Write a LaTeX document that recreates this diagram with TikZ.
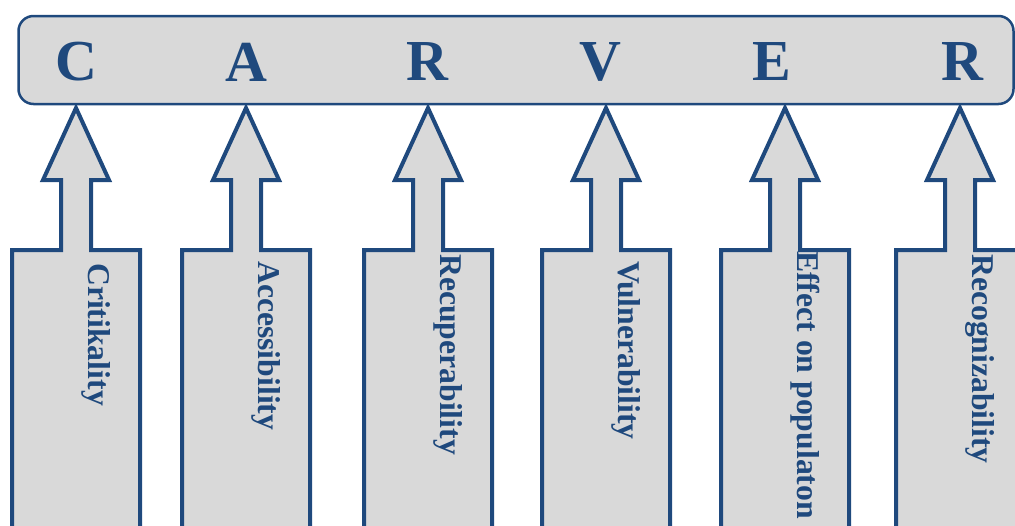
\documentclass[tikz,border=0pt]{standalone}
\usepackage{fontspec}
\setmainfont{Liberation Serif}
\usetikzlibrary{positioning,calc}
\definecolor{carverblue}{HTML}{1F497D}
\definecolor{carvergray}{HTML}{D9D9D9}

\begin{document}
\begin{tikzpicture}[x=1pt,y=-1pt,
    bar/.style={draw=carverblue,line width=2.5pt,fill=carvergray,rounded corners=15pt,inner sep=0pt},
    letter/.style={text=carverblue,font=\fontsize{58}{60}\selectfont\bfseries},
    factor/.style={text=carverblue,font=\fontsize{31.7}{33}\selectfont\bfseries,rotate=-90,anchor=west,inner sep=0pt},
    uparrow/.style={draw=carverblue,line width=4pt,fill=carvergray}]
      \useasboundingbox (0,0) rectangle (1015,525);
      \clip (0,0) rectangle (1015,525);

      % the CARVER bar
      \node[bar,minimum width=995pt,minimum height=88pt] (bar) at (516,60) {};
      \foreach \lx/\ch [count=\i] in {76/C,246/A,427/R,600/V,772/E,962/R}
      {
        \node[letter] (letter\i) at (\lx,62) {\ch};
      }

      % block arrows pointing up to the bar
      \foreach \tx/\ty/\name [count=\i] in {76/263/Critikality,246/261/Accessibility,428/254/Recuperability,
          606/261/Vulnerability,785/251/Effect on populaton,960/254/Recognizability}
      {
        \coordinate (tip\i) at (\tx,108);
        \draw[uparrow] (\tx-64,540) -- (\tx-64,250) -- (\tx-15,250) -- (\tx-15,180) -- (\tx-33,180)
          -- (tip\i) -- (\tx+33,180) -- (\tx+15,180) -- (\tx+15,250) -- (\tx+64,250) -- (\tx+64,540);
        \node[factor] (factor\i) at (\tx+20,\ty) {\name};
      }
\end{tikzpicture}
\end{document}
